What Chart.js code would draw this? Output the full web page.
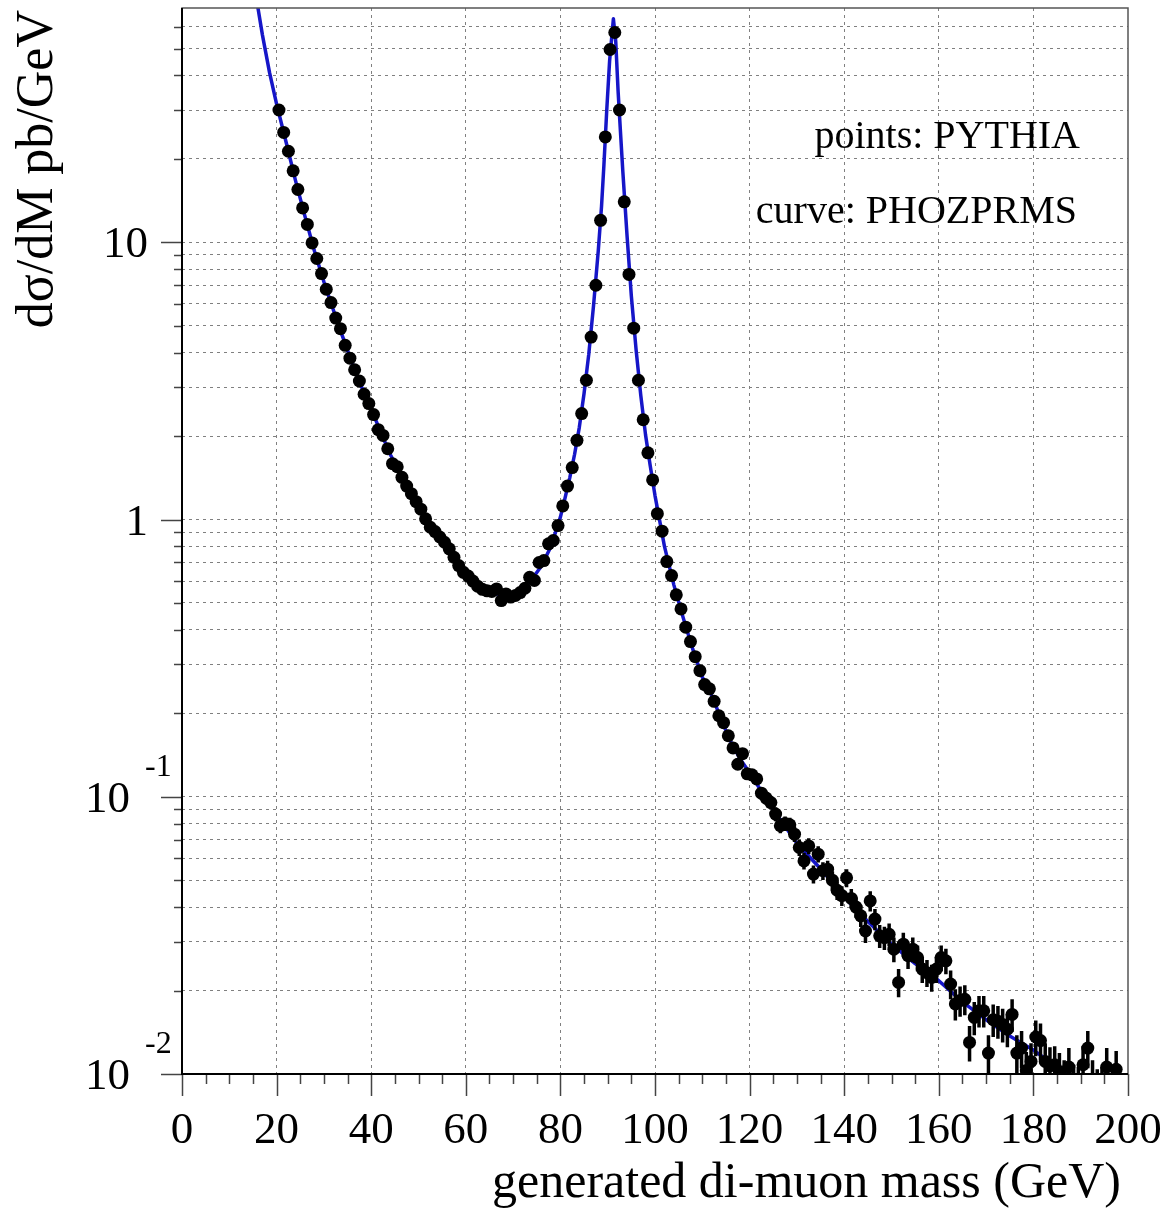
<!DOCTYPE html>
<html>
<head>
<meta charset="utf-8">
<title>generated di-muon mass</title>
<script src="https://cdn.jsdelivr.net/npm/chart.js@4.4.1/dist/chart.umd.min.js"></script>
<style>
  html, body { margin: 0; padding: 0; background: #fff; }
  canvas { display: block; }
</style>
</head>
<body>
<canvas id="myChart" width="1169" height="1209"></canvas>
<script>
const ctx = document.getElementById("myChart");

// PYTHIA histogram, 1 GeV bins, first bin 20-21 GeV
const firstBinLow = 20;
const binWidth = 1;

// d(sigma)/dM in pb/GeV, one value per bin (20.5 ... 198.5)
const pythiaXsec = [
    30.0, 24.9, 21.3, 18.1, 15.5, 13.3, 11.6, 9.95, 8.74, 7.71,            // 20
    6.77, 6.06, 5.33, 4.88, 4.25, 3.82, 3.47, 3.16, 2.83, 2.62,            // 30
    2.39, 2.11, 2.01, 1.80, 1.59, 1.55, 1.42, 1.32, 1.24, 1.16,            // 40
    1.09, 1.006, 0.938, 0.905, 0.865, 0.828, 0.784, 0.731, 0.682, 0.645,   // 50
    0.625, 0.600, 0.575, 0.560, 0.553, 0.550, 0.562, 0.510, 0.539, 0.525,  // 60
    0.532, 0.545, 0.565, 0.619, 0.603, 0.700, 0.711, 0.817, 0.840, 0.951,  // 70
    1.12, 1.32, 1.54, 1.93, 2.41, 3.18, 4.55, 7.0, 12.0, 24.0,             // 80
    49.6, 57.1, 30.0, 14.0, 7.66, 4.9, 3.18, 2.29, 1.74, 1.39,             // 90
    1.05, 0.908, 0.705, 0.628, 0.535, 0.476, 0.409, 0.363, 0.320, 0.285,   // 100
    0.254, 0.245, 0.221, 0.196, 0.185, 0.166, 0.150, 0.131, 0.143, 0.121,  // 110
    0.120, 0.116, 0.103, 0.0989, 0.0953, 0.0866, 0.0786, 0.0801, 0.0792, 0.0733, // 120
    0.0656, 0.0587, 0.0665, 0.0526, 0.0621, 0.0541, 0.0548, 0.050, 0.046, 0.044, // 130
    0.051, 0.043, 0.040, 0.0372, 0.0328, 0.0421, 0.0362, 0.0315, 0.0310, 0.0319, // 140
    0.0282, 0.0214, 0.0294, 0.0267, 0.0282, 0.0263, 0.0239, 0.0232, 0.0223, 0.0239, // 150
    0.0263, 0.0256, 0.0211, 0.0179, 0.0184, 0.0186, 0.0130, 0.0160, 0.0169, 0.0169, // 160
    0.0119, 0.0157, 0.0155, 0.0151, 0.0145, 0.0164, 0.0119, 0.0124, 0.0103, 0.0111, // 170
    0.0136, 0.0132, 0.0111, 0.0107, 0.0108, 0.0102, 0.0095, 0.0106, 0.0092, 0.0090, // 180
    0.0108, 0.0124, 0.0095, 0.0088, 0.0090, 0.0106, 0.0084, 0.0104, 0.0080          // 190
];

// statistical error of each bin
const pythiaErr = [
    0.093, 0.085, 0.078, 0.072, 0.067, 0.062, 0.058, 0.054, 0.050, 0.047,
    0.044, 0.042, 0.039, 0.038, 0.035, 0.033, 0.032, 0.030, 0.029, 0.028,
    0.026, 0.025, 0.024, 0.023, 0.021, 0.021, 0.020, 0.020, 0.019, 0.018,
    0.018, 0.017, 0.016, 0.016, 0.016, 0.015, 0.015, 0.015, 0.014, 0.014,
    0.013, 0.013, 0.013, 0.013, 0.013, 0.013, 0.013, 0.012, 0.012, 0.012,
    0.012, 0.013, 0.013, 0.013, 0.013, 0.014, 0.014, 0.015, 0.016, 0.017,
    0.018, 0.020, 0.021, 0.024, 0.026, 0.030, 0.036, 0.045, 0.059, 0.083,
    0.12, 0.13, 0.093, 0.064, 0.047, 0.038, 0.030, 0.026, 0.022, 0.020,
    0.017, 0.016, 0.014, 0.013, 0.012, 0.012, 0.011, 0.010, 0.0096, 0.0091,
    0.0086, 0.0084, 0.0080, 0.0075, 0.0073, 0.0069, 0.0066, 0.0062, 0.0064, 0.0059,
    0.0059, 0.0058, 0.0055, 0.0053, 0.0053, 0.0050, 0.0048, 0.0048, 0.0048, 0.0046,
    0.0044, 0.0041, 0.0044, 0.0039, 0.0042, 0.0040, 0.0040, 0.0038, 0.0036, 0.0036,
    0.0038, 0.0035, 0.0034, 0.0033, 0.0031, 0.0035, 0.0032, 0.0030, 0.0030, 0.0030,
    0.0029, 0.0025, 0.0029, 0.0028, 0.0029, 0.0028, 0.0026, 0.0026, 0.0025, 0.0026,
    0.0028, 0.0027, 0.0025, 0.0023, 0.0023, 0.0023, 0.0019, 0.0022, 0.0022, 0.0022,
    0.0019, 0.0021, 0.0021, 0.0021, 0.0020, 0.0022, 0.0019, 0.0019, 0.0017, 0.0018,
    0.0020, 0.0020, 0.0018, 0.0018, 0.0018, 0.0017, 0.0017, 0.0018, 0.0016, 0.0016,
    0.0018, 0.0019, 0.0017, 0.0016, 0.0016, 0.0018, 0.0016, 0.0017, 0.0015
];

// PHOZPRMS curve
const curveMass = [
    15.5, 17, 18.5, 20, 22, 24, 26, 28, 30, 32, 34, 36, 38, 40, 42, 44, 46, 48,
    50, 52, 54, 56, 58, 60, 62, 64, 66, 68, 70, 72, 74, 76, 78, 80, 81, 82, 83,
    84, 85, 86, 87, 88, 88.7, 89.2, 89.8, 90.4, 91.2, 91.7, 92.2, 92.7, 93.2,
    94.1, 95, 96, 97, 98, 99, 100, 102, 104, 106, 108, 110, 112, 114, 116, 118,
    120, 125, 130, 135, 140, 145, 150, 155, 160, 165, 170, 175, 180, 185, 190
];
const curveXsec = [
    80, 56, 41, 31.5, 23, 16.7, 12.4, 9.3, 7.2, 5.7, 4.55, 3.65, 3.0, 2.5, 2.07, 1.72, 1.49, 1.28,
    1.12, 0.99, 0.88, 0.79, 0.71, 0.645, 0.595, 0.56, 0.54, 0.535, 0.54, 0.56, 0.61, 0.68, 0.80, 1.02, 1.2, 1.42, 1.72,
    2.15, 2.85, 3.95, 5.9, 9.3, 13.5, 19, 30, 45, 64, 53, 35, 25, 18,
    10.5, 6.4, 4.1, 2.8, 2.02, 1.56, 1.22, 0.80, 0.58, 0.44, 0.34, 0.27, 0.232, 0.19, 0.158, 0.137,
    0.122, 0.090, 0.068, 0.055, 0.0435, 0.0355, 0.0294, 0.025, 0.0217, 0.0182, 0.0157, 0.0137, 0.0122, 0.0106, 0.0093
];

// axis labels
const xTickValues = [0, 20, 40, 60, 80, 100, 120, 140, 160, 180, 200];
const yLabelValues = [10, 1, 0.1, 0.01];
const yLabelBase = ["10", "1", "10", "10"];
const yLabelExp = ["", "", "-1", "-2"];

const xMin = 0, xMax = 200;
const yMin = 0.01, yMax = 70;

const FONT = '"Liberation Serif", "Times New Roman", serif';

// log grid: 1..9 x each decade
const yGrid = [];
[0.01, 0.1, 1, 10].forEach((d) => {
    for (let k = 1; k <= 9; k++) {
        const v = +(k * d).toPrecision(3);
        if (v > yMin && v < yMax) yGrid.push(v);
    }
});
const xGrid = xTickValues.filter((v) => v > xMin && v < xMax);

const points = [];
const errorBars = [];
pythiaXsec.forEach((v, i) => {
    const m = firstBinLow + (i + 0.5) * binWidth;
    points.push({ x: m, y: v });
    errorBars.push({ x: m, y: v - pythiaErr[i] });
    errorBars.push({ x: m, y: v + pythiaErr[i] });
    errorBars.push({ x: m, y: null });
});
const curve = curveMass.map((m, i) => ({ x: m, y: curveXsec[i] }));

// ticks, frame and all the texts (ROOT style)
const frameAndLabels = {
    id: "frameAndLabels",
    afterDraw(chart) {
        const c = chart.ctx;
        const a = chart.chartArea;
        const x = chart.scales.x;
        const y = chart.scales.y;
        c.save();

        // tick marks
        c.strokeStyle = "#444";
        c.lineWidth = 1.5;
        c.beginPath();
        for (let m = xMin; m <= xMax; m += 5) {
            const px = Math.round(x.getPixelForValue(m)) + 0.5;
            const len = m % 20 === 0 ? 22 : 10;
            c.moveTo(px, a.bottom);
            c.lineTo(px, a.bottom + len);
        }
        [yMin].concat(yGrid).forEach((v) => {
            const py = Math.round(y.getPixelForValue(v)) + 0.5;
            const major = yLabelValues.includes(v);
            c.moveTo(a.left, py);
            c.lineTo(a.left - (major ? 21 : 8), py);
        });
        c.stroke();

        // frame
        c.strokeStyle = "#555";
        c.lineWidth = 1.5;
        c.strokeRect(a.left, a.top, a.right - a.left, a.bottom - a.top);
        c.strokeStyle = "#000";
        c.lineWidth = 2;
        c.beginPath();
        c.moveTo(a.left, a.top);
        c.lineTo(a.left, a.bottom);
        c.lineTo(a.right, a.bottom);
        c.stroke();

        c.fillStyle = "#000";

        // x tick labels
        c.font = "45px " + FONT;
        c.textAlign = "center";
        c.textBaseline = "alphabetic";
        xTickValues.forEach((v) => {
            c.fillText(String(v), x.getPixelForValue(v), a.bottom + 69);
        });

        // y tick labels
        yLabelValues.forEach((v, i) => {
            const py = y.getPixelForValue(v);
            c.font = "45px " + FONT;
            c.textAlign = "right";
            c.textBaseline = "alphabetic";
            if (yLabelExp[i]) {
                c.fillText(yLabelBase[i], a.left - 52, py + 15);
                c.font = "32px " + FONT;
                c.textAlign = "left";
                c.fillText(yLabelExp[i], a.left - 37, py - 21);
            } else {
                c.fillText(yLabelBase[i], a.left - 34, py + 15);
            }
        });

        // axis titles
        c.font = "50px " + FONT;
        c.textAlign = "right";
        c.fillText("generated di-muon mass (GeV)", a.right - 7, 1197);

        c.save();
        c.translate(52, 10);
        c.rotate(-Math.PI / 2);
        c.textAlign = "right";
        c.font = "52px " + FONT;
        c.fillText("d\u03c3/dM pb/GeV", 0, 0);
        c.restore();

        // legend texts
        c.font = "40px " + FONT;
        c.textAlign = "right";
        c.fillText("points: PYTHIA", 1080, 148);
        c.fillText("curve: PHOZPRMS", 1077, 223);

        c.restore();
    },
};

new Chart(ctx, {
    type: "scatter",
    data: {
        datasets: [
            {
                label: "PYTHIA",
                data: points,
                pointRadius: 6.5,
                pointHoverRadius: 6.5,
                pointBackgroundColor: "#000",
                pointBorderWidth: 0,
                showLine: false,
                clip: 0,
                order: 0,
            },
            {
                label: "errors",
                type: "line",
                data: errorBars,
                borderColor: "#000",
                borderWidth: 3.5,
                pointRadius: 0,
                spanGaps: false,
                clip: 0,
                order: 1,
            },
            {
                label: "PHOZPRMS",
                type: "line",
                data: curve,
                borderColor: "#1616c8",
                borderWidth: 3.5,
                borderJoinStyle: "round",
                pointRadius: 0,
                tension: 0,
                clip: 0,
                order: 2,
            },
        ],
    },
    options: {
        responsive: false,
        animation: false,
        devicePixelRatio: 1,
        layout: { padding: { top: 8, right: 41, left: 0, bottom: 0 } },
        plugins: { legend: { display: false }, tooltip: { enabled: false } },
        scales: {
            x: {
                type: "linear",
                min: xMin,
                max: xMax,
                afterBuildTicks: (scale) => {
                    scale.ticks = xGrid.map((v) => ({ value: v }));
                },
                afterFit: (scale) => {
                    scale.height = 135;
                },
                ticks: { display: false },
                grid: { color: "#808080", lineWidth: 1, drawTicks: false },
                border: { display: false, dash: [3, 4] },
            },
            y: {
                type: "logarithmic",
                min: yMin,
                max: yMax,
                afterBuildTicks: (scale) => {
                    scale.ticks = yGrid.map((v) => ({ value: v }));
                },
                afterFit: (scale) => {
                    scale.width = 182;
                },
                ticks: { display: false },
                grid: { color: "#808080", lineWidth: 1, drawTicks: false },
                border: { display: false, dash: [3, 4] },
            },
        },
    },
    plugins: [frameAndLabels],
});
</script>
</body>
</html>
